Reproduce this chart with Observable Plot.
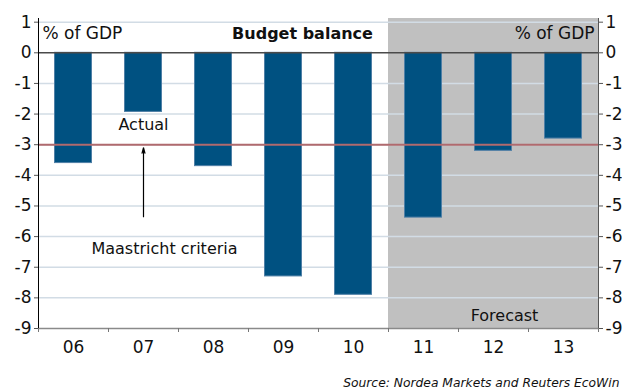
<!DOCTYPE html>
<html>
<head>
<meta charset="utf-8">
<script src="https://cdn.jsdelivr.net/npm/d3@7"></script>
<script src="https://cdn.jsdelivr.net/npm/@observablehq/plot@0.6"></script>
<style>
  html, body { margin: 0; padding: 0; background: #fff; }
  #chart svg { display: block; }
</style>
</head>
<body>
<div id="chart"></div>
<script>
const years = ["06", "07", "08", "09", "10", "11", "12", "13"];
const balance = [-3.6, -1.93, -3.7, -7.3, -7.9, -5.38, -3.2, -2.8];
const forecastYears = ["11", "12", "13"];
const yTicks = [1, 0, -1, -2, -3, -4, -5, -6, -7, -8, -9];
const gridValues = [1, -1, -2, -3, -4, -5, -6, -7, -8];
const maastricht = [-3];
const yMin = -9, yMax = 1.12;

const data = years.map((y, i) => ({year: y, value: balance[i]}));
const font = "DejaVu Sans, Verdana, sans-serif";

const chart = Plot.plot({
  width: 622,
  height: 390,
  marginLeft: 38,
  marginRight: 24,
  marginTop: 18,
  marginBottom: 62,
  style: {fontFamily: font, fontSize: "16px", color: "#111", background: "#fff"},
  x: {domain: years, padding: 0, axis: null, label: null},
  y: {domain: [yMin, yMax], axis: null, label: null},
  marks: [
    // forecast shading
    Plot.barY(forecastYears, {x: d => d, y1: yMin, y2: yMax, fill: "#c0c0c0"}),
    // gridlines
    Plot.ruleY(gridValues, {stroke: "#d2dce5", strokeWidth: 1.5}),
    // bars
    Plot.barY(data, {x: "year", y: "value", fill: "#005181", stroke: "#4f7fa6", strokeWidth: 1, insetLeft: 16.5, insetRight: 16.5}),
    // Maastricht line
    Plot.ruleY(maastricht, {stroke: "#b06a6e", strokeWidth: 2}),
    // zero line and bottom line
    Plot.ruleY([0], {stroke: "#4a4a4a", strokeWidth: 1.5}),
    Plot.ruleY([yMin], {stroke: "#8a8a8a", strokeWidth: 1.5}),
    // axis lines
    Plot.frame({anchor: "left", stroke: "#000"}),
    Plot.frame({anchor: "right", stroke: "#555"}),
    // y axes
    Plot.axisY(yTicks, {anchor: "left", label: null, tickSize: 4, tickPadding: 3, tickFormat: d => String(d), fontSize: 17, stroke: "#555"}),
    Plot.axisY(yTicks, {anchor: "right", label: null, tickSize: 4, tickPadding: 3, tickFormat: d => String(d), fontSize: 17, stroke: "#555"}),
    // x axis: ticks at band boundaries, labels at band centers
    Plot.axisX(years, {anchor: "bottom", label: null, tickSize: 4, tickFormat: null, dx: -35, stroke: "#777"}),
    Plot.axisX(years.slice(-1), {anchor: "bottom", label: null, tickSize: 4, tickFormat: null, dx: 35, stroke: "#777"}),
    Plot.axisX(years, {anchor: "bottom", label: null, tickSize: 0, tickPadding: 12, fontSize: 17}),
    // panel titles
    Plot.text(["% of GDP"], {frameAnchor: "top-left", textAnchor: "start", lineAnchor: "middle", dx: 4, dy: 15, fontSize: 17}),
    Plot.text(["% of GDP"], {frameAnchor: "top-right", textAnchor: "end", lineAnchor: "middle", dx: -4, dy: 15, fontSize: 17}),
    Plot.text(["Budget balance"], {frameAnchor: "top", lineAnchor: "middle", dx: -16, dy: 15, fontSize: 16, fontWeight: "bold"}),
    // annotations
    Plot.text(["Actual"], {x: () => "07", y: () => -2.34, fontSize: 16}),
    Plot.arrow([{y1: -5.35, y2: -3.1}], {x1: () => "07", x2: () => "07", y1: "y1", y2: "y2", stroke: "#000", strokeWidth: 1.2, headLength: 7, headAngle: 30}),
    Plot.text(["Maastricht criteria"], {x: () => "07", y: () => -6.4, dx: 21, fontSize: 16}),
    Plot.text(["Forecast"], {x: () => "12", y: () => -8.6, dx: 11, fontSize: 16}),
    // source
    Plot.text(["Source: Nordea Markets and Reuters EcoWin"], {frameAnchor: "bottom-right", textAnchor: "end", lineAnchor: "middle", dx: 21, dy: 55, fontSize: 12.3, fontStyle: "italic"})
  ]
});

document.getElementById("chart").append(chart);
</script>
</body>
</html>
